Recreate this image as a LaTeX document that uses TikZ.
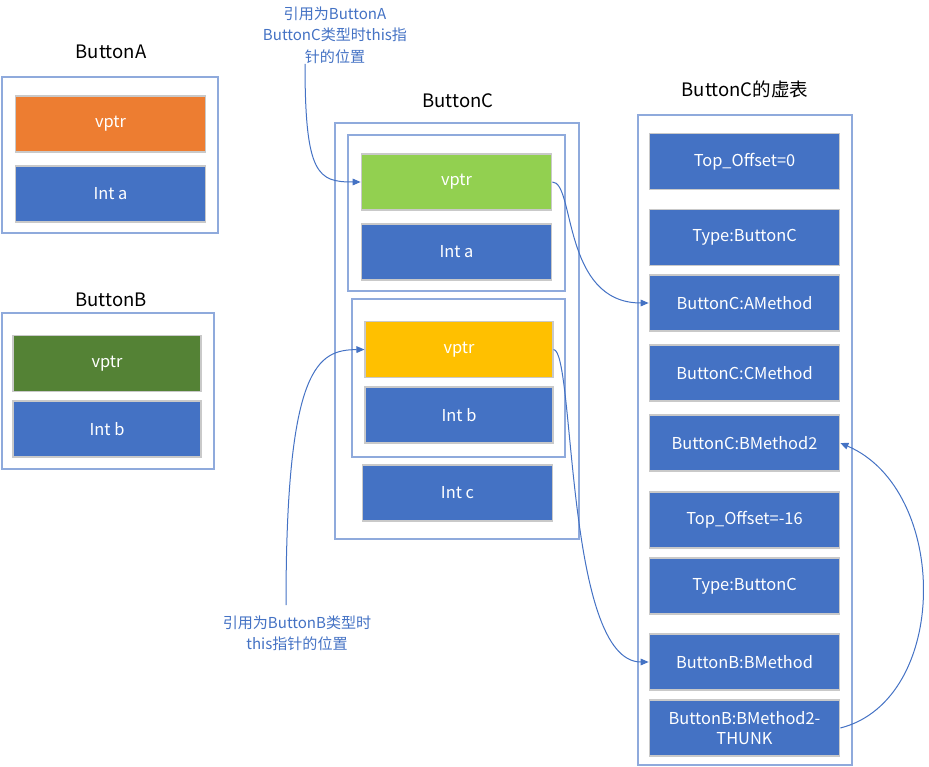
\documentclass[tikz,border=0pt]{standalone}
\usepackage{fontspec}
\setmainfont{Noto Sans CJK SC}
\usetikzlibrary{arrows.meta}
\definecolor{cellblue}{HTML}{4472C4}
\definecolor{frameblue}{HTML}{8FAADC}
\definecolor{cellgray}{HTML}{C9C9C9}
\definecolor{ptrorange}{HTML}{ED7D31}
\definecolor{ptrgreen}{HTML}{548235}
\definecolor{ptrlime}{HTML}{92D050}
\definecolor{ptryellow}{HTML}{FFC000}
\begin{document}
\begin{tikzpicture}[x=0.75pt,y=-0.75pt,
    cell/.style={draw=cellgray,line width=0.8pt,fill=cellblue,text=white,
      minimum width=143pt,minimum height=42pt,inner sep=1pt,align=center,
      font=\fontsize{12.3}{14.5}\selectfont},
    frame/.style={draw=frameblue,line width=1.1pt},
    title/.style={font=\fontsize{13.9}{16}\selectfont},
    note/.style={text=cellblue,align=center,font=\fontsize{11.3}{16}\selectfont}]
  \useasboundingbox (0,0) rectangle (929,767);
  % ButtonA
  \node[title] (ta) at (111,52) {ButtonA};
  \node[frame,minimum width=162pt,minimum height=117pt] (fa) at (110,155) {};
  \node[cell,fill=ptrorange] (aptr) at (110.5,124) {vptr};
  \node[cell] (aint) at (110.5,194) {Int a};
  % ButtonB
  \node[title] (tb) at (111,300) {ButtonB};
  \node[frame,minimum width=159pt,minimum height=117pt] (fb) at (108,391) {};
  \node[cell,fill=ptrgreen,minimum width=141pt] (bptr) at (107,363.5) {vptr};
  \node[cell,minimum width=141pt] (bint) at (107,429) {Int b};
  % ButtonC
  \node[title] (tc) at (458,101) {ButtonC};
  \node[frame,minimum width=183pt,minimum height=312pt] (fc) at (457,331) {};
  \node[frame,minimum width=162.75pt,minimum height=117pt] (fca) at (456.5,213) {};
  \node[frame,minimum width=159.75pt,minimum height=118.5pt] (fcb) at (458.5,378) {};
  \node[cell,fill=ptrlime] (captr) at (456.5,182) {vptr};
  \node[cell] (caint) at (456.5,252) {Int a};
  \node[cell,fill=ptryellow,minimum width=141pt] (cbptr) at (459,349.5) {vptr};
  \node[cell,minimum width=141pt] (cbint) at (459,415) {Int b};
  \node[cell,minimum width=142pt] (ccint) at (457.5,493) {Int c};
  % vtable
  \node[title] (tv) at (745,89) {ButtonC的虚表};
  \node[frame,minimum width=160.5pt,minimum height=487.5pt] (fv) at (745,440) {};
  \node[cell] (v0) at (744.5,161.5) {Top\_Offset=0};
  \node[cell] (v1) at (744.5,237.5) {Type:ButtonC};
  \node[cell] (v2) at (744.5,303) {ButtonC:AMethod};
  \node[cell] (v3) at (744.5,373) {ButtonC:CMethod};
  \node[cell] (v4) at (744.5,443) {ButtonC:BMethod2};
  \node[cell] (v5) at (744.5,520) {Top\_Offset=-16};
  \node[cell] (v6) at (744.5,586) {Type:ButtonC};
  \node[cell] (v7) at (744.5,662) {ButtonB:BMethod};
  \node[cell] (v8) at (744.5,728) {ButtonB:BMethod2-\\THUNK};
  % notes
  \node[note] (na) at (335,35) {引用为ButtonA\\ButtonC类型时this指\\针的位置};
  \node[note] (nb) at (297,633) {引用为ButtonB类型时\\this指针的位置};
  \coordinate (pa) at (305,64);
  \coordinate (pb) at (286,605);
  \begin{scope}[draw=cellblue,line width=0.75pt,-{Triangle[length=6pt,width=5pt]}]
    \draw (pa) .. controls (305,175) and (318,182) .. (captr.west);
    \draw (pb) .. controls (286,365) and (318,350) .. (cbptr.west);
    \draw (captr.east) .. controls (575,182) and (562,303) .. (v2.west);
    \draw (cbptr.east) .. controls (575,350) and (565,662) .. (v7.west);
    \draw (v8.east) .. controls (950,700) and (950,490) .. (v4.east);
  \end{scope}
\end{tikzpicture}
\end{document}
